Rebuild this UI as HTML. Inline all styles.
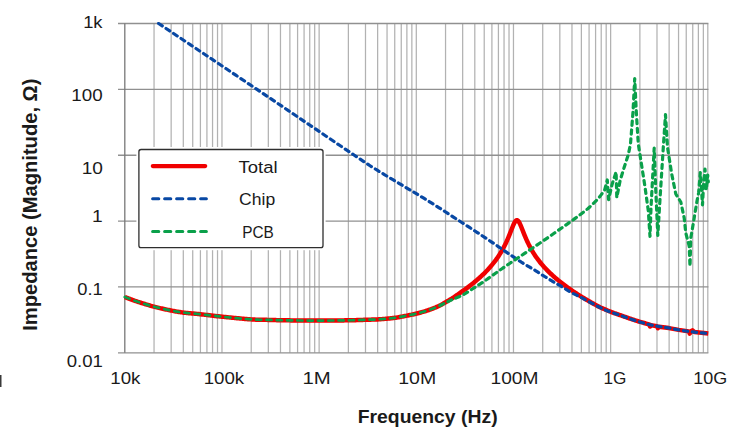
<!DOCTYPE html>
<html><head><meta charset="utf-8"><title>Impedance vs Frequency</title>
<style>
html,body{margin:0;padding:0;background:#fff;}
body{width:738px;height:444px;overflow:hidden;font-family:"Liberation Sans",sans-serif;}
svg{display:block;}
text{font-family:"Liberation Sans",sans-serif;fill:#1a1a1a;}
</style></head><body>
<svg width="738" height="444" viewBox="0 0 738 444">
<rect width="738" height="444" fill="#ffffff"/>
<filter id="bl" x="-2%" y="-2%" width="104%" height="104%"><feGaussianBlur stdDeviation="0.45"/></filter>
<g filter="url(#bl)">
<g stroke="#b2b2b2" stroke-width="1.25" fill="none">
<line x1="154.05" y1="23.50" x2="154.05" y2="352.80"/>
<line x1="171.16" y1="23.50" x2="171.16" y2="352.80"/>
<line x1="183.30" y1="23.50" x2="183.30" y2="352.80"/>
<line x1="192.72" y1="23.50" x2="192.72" y2="352.80"/>
<line x1="200.41" y1="23.50" x2="200.41" y2="352.80"/>
<line x1="206.92" y1="23.50" x2="206.92" y2="352.80"/>
<line x1="212.55" y1="23.50" x2="212.55" y2="352.80"/>
<line x1="217.52" y1="23.50" x2="217.52" y2="352.80"/>
<line x1="251.22" y1="23.50" x2="251.22" y2="352.80"/>
<line x1="268.33" y1="23.50" x2="268.33" y2="352.80"/>
<line x1="280.47" y1="23.50" x2="280.47" y2="352.80"/>
<line x1="289.88" y1="23.50" x2="289.88" y2="352.80"/>
<line x1="297.58" y1="23.50" x2="297.58" y2="352.80"/>
<line x1="304.08" y1="23.50" x2="304.08" y2="352.80"/>
<line x1="309.72" y1="23.50" x2="309.72" y2="352.80"/>
<line x1="314.69" y1="23.50" x2="314.69" y2="352.80"/>
<line x1="221.97" y1="23.50" x2="221.97" y2="352.80"/>
<line x1="348.38" y1="23.50" x2="348.38" y2="352.80"/>
<line x1="365.49" y1="23.50" x2="365.49" y2="352.80"/>
<line x1="377.63" y1="23.50" x2="377.63" y2="352.80"/>
<line x1="387.05" y1="23.50" x2="387.05" y2="352.80"/>
<line x1="394.74" y1="23.50" x2="394.74" y2="352.80"/>
<line x1="401.25" y1="23.50" x2="401.25" y2="352.80"/>
<line x1="406.88" y1="23.50" x2="406.88" y2="352.80"/>
<line x1="411.85" y1="23.50" x2="411.85" y2="352.80"/>
<line x1="319.13" y1="23.50" x2="319.13" y2="352.80"/>
<line x1="445.55" y1="23.50" x2="445.55" y2="352.80"/>
<line x1="462.66" y1="23.50" x2="462.66" y2="352.80"/>
<line x1="474.80" y1="23.50" x2="474.80" y2="352.80"/>
<line x1="484.22" y1="23.50" x2="484.22" y2="352.80"/>
<line x1="491.91" y1="23.50" x2="491.91" y2="352.80"/>
<line x1="498.42" y1="23.50" x2="498.42" y2="352.80"/>
<line x1="504.05" y1="23.50" x2="504.05" y2="352.80"/>
<line x1="509.02" y1="23.50" x2="509.02" y2="352.80"/>
<line x1="416.30" y1="23.50" x2="416.30" y2="352.80"/>
<line x1="542.72" y1="23.50" x2="542.72" y2="352.80"/>
<line x1="559.83" y1="23.50" x2="559.83" y2="352.80"/>
<line x1="571.97" y1="23.50" x2="571.97" y2="352.80"/>
<line x1="581.38" y1="23.50" x2="581.38" y2="352.80"/>
<line x1="589.08" y1="23.50" x2="589.08" y2="352.80"/>
<line x1="595.58" y1="23.50" x2="595.58" y2="352.80"/>
<line x1="601.22" y1="23.50" x2="601.22" y2="352.80"/>
<line x1="606.19" y1="23.50" x2="606.19" y2="352.80"/>
<line x1="513.47" y1="23.50" x2="513.47" y2="352.80"/>
<line x1="639.88" y1="23.50" x2="639.88" y2="352.80"/>
<line x1="656.99" y1="23.50" x2="656.99" y2="352.80"/>
<line x1="669.13" y1="23.50" x2="669.13" y2="352.80"/>
<line x1="678.55" y1="23.50" x2="678.55" y2="352.80"/>
<line x1="686.24" y1="23.50" x2="686.24" y2="352.80"/>
<line x1="692.75" y1="23.50" x2="692.75" y2="352.80"/>
<line x1="698.38" y1="23.50" x2="698.38" y2="352.80"/>
<line x1="703.35" y1="23.50" x2="703.35" y2="352.80"/>
<line x1="610.63" y1="23.50" x2="610.63" y2="352.80"/>
<line x1="707.80" y1="23.50" x2="707.80" y2="352.80"/>
</g>
<g stroke="#909090" stroke-width="1.35" fill="none">
<line x1="118.00" y1="23.50" x2="708.40" y2="23.50"/>
<line x1="118.00" y1="89.36" x2="708.40" y2="89.36"/>
<line x1="118.00" y1="155.22" x2="708.40" y2="155.22"/>
<line x1="118.00" y1="221.08" x2="708.40" y2="221.08"/>
<line x1="118.00" y1="286.94" x2="708.40" y2="286.94"/>
<line x1="118.00" y1="352.80" x2="708.40" y2="352.80"/>
</g>
<line x1="124.8" y1="23.5" x2="124.8" y2="352.8" stroke="#787878" stroke-width="1.3"/>
</g>
<clipPath id="cp"><rect x="122.6" y="21.9" width="587.8" height="330.90000000000003"/></clipPath>
<g clip-path="url(#cp)">
<path d="M124.80 297.00 L125.80 297.39 L126.80 297.78 L127.80 298.17 L128.80 298.56 L129.80 298.95 L130.80 299.33 L131.80 299.71 L132.80 300.08 L133.80 300.44 L134.80 300.79 L135.80 301.13 L136.80 301.46 L137.80 301.79 L138.80 302.12 L139.80 302.44 L140.80 302.76 L141.80 303.08 L142.80 303.39 L143.80 303.70 L144.80 304.01 L145.80 304.32 L146.80 304.62 L147.80 304.92 L148.80 305.21 L149.80 305.50 L150.80 305.79 L151.80 306.07 L152.80 306.35 L153.80 306.62 L154.80 306.88 L155.80 307.14 L156.80 307.39 L157.80 307.63 L158.80 307.87 L159.80 308.11 L160.80 308.34 L161.80 308.56 L162.80 308.79 L163.80 309.00 L164.80 309.22 L165.80 309.43 L166.80 309.64 L167.80 309.85 L168.80 310.05 L169.80 310.26 L170.80 310.46 L171.80 310.66 L172.80 310.86 L173.80 311.06 L174.80 311.25 L175.80 311.43 L176.80 311.61 L177.80 311.78 L178.80 311.95 L179.80 312.10 L180.80 312.25 L181.80 312.39 L182.80 312.52 L183.80 312.65 L184.80 312.77 L185.80 312.88 L186.80 312.98 L187.80 313.08 L188.80 313.17 L189.80 313.26 L190.80 313.35 L191.80 313.44 L192.80 313.52 L193.80 313.61 L194.80 313.70 L195.80 313.79 L196.80 313.88 L197.80 313.98 L198.80 314.08 L199.80 314.18 L200.80 314.29 L201.80 314.40 L202.80 314.51 L203.80 314.62 L204.80 314.74 L205.80 314.86 L206.80 314.98 L207.80 315.09 L208.80 315.21 L209.80 315.33 L210.80 315.45 L211.80 315.57 L212.80 315.69 L213.80 315.80 L214.80 315.92 L215.80 316.03 L216.80 316.14 L217.80 316.25 L218.80 316.36 L219.80 316.47 L220.80 316.57 L221.80 316.68 L222.80 316.78 L223.80 316.88 L224.80 316.98 L225.80 317.08 L226.80 317.18 L227.80 317.29 L228.80 317.38 L229.80 317.48 L230.80 317.58 L231.80 317.68 L232.80 317.78 L233.80 317.88 L234.80 317.97 L235.80 318.07 L236.80 318.17 L237.80 318.26 L238.80 318.35 L239.80 318.45 L240.80 318.54 L241.80 318.63 L242.80 318.72 L243.80 318.81 L244.80 318.89 L245.80 318.98 L246.80 319.06 L247.80 319.14 L248.80 319.22 L249.80 319.30 L250.80 319.37 L251.80 319.44 L252.80 319.50 L253.80 319.56 L254.80 319.61 L255.80 319.66 L256.80 319.69 L257.80 319.73 L258.80 319.76 L259.80 319.78 L260.80 319.80 L261.80 319.81 L262.80 319.82 L263.80 319.83 L264.80 319.84 L265.80 319.85 L266.80 319.87 L267.80 319.89 L268.80 319.91 L269.80 319.94 L270.80 319.97 L271.80 320.00 L272.80 320.03 L273.80 320.06 L274.80 320.08 L275.80 320.11 L276.80 320.13 L277.80 320.16 L278.80 320.18 L279.80 320.20 L280.80 320.21 L281.80 320.23 L282.80 320.25 L283.80 320.27 L284.80 320.29 L285.80 320.30 L286.80 320.32 L287.80 320.34 L288.80 320.35 L289.80 320.37 L290.80 320.38 L291.80 320.40 L292.80 320.41 L293.80 320.42 L294.80 320.44 L295.80 320.45 L296.80 320.46 L297.80 320.48 L298.80 320.49 L299.80 320.50 L300.80 320.51 L301.80 320.52 L302.80 320.53 L303.80 320.54 L304.80 320.55 L305.80 320.56 L306.80 320.57 L307.80 320.58 L308.80 320.59 L309.80 320.59 L310.80 320.60 L311.80 320.60 L312.80 320.61 L313.80 320.61 L314.80 320.61 L315.80 320.61 L316.80 320.61 L317.80 320.60 L318.80 320.60 L319.80 320.60 L320.80 320.59 L321.80 320.59 L322.80 320.58 L323.80 320.57 L324.80 320.57 L325.80 320.56 L326.80 320.55 L327.80 320.54 L328.80 320.54 L329.80 320.53 L330.80 320.52 L331.80 320.51 L332.80 320.50 L333.80 320.49 L334.80 320.48 L335.80 320.47 L336.80 320.46 L337.80 320.45 L338.80 320.44 L339.80 320.43 L340.80 320.42 L341.80 320.40 L342.80 320.39 L343.80 320.38 L344.80 320.36 L345.80 320.35 L346.80 320.33 L347.80 320.32 L348.80 320.30 L349.80 320.28 L350.80 320.27 L351.80 320.24 L352.80 320.22 L353.80 320.20 L354.80 320.17 L355.80 320.14 L356.80 320.11 L357.80 320.08 L358.80 320.04 L359.80 320.01 L360.80 319.97 L361.80 319.94 L362.80 319.90 L363.80 319.86 L364.80 319.83 L365.80 319.80 L366.80 319.77 L367.80 319.74 L368.80 319.71 L369.80 319.68 L370.80 319.65 L371.80 319.62 L372.80 319.59 L373.80 319.56 L374.80 319.52 L375.80 319.48 L376.80 319.44 L377.80 319.39 L378.80 319.33 L379.80 319.27 L380.80 319.20 L381.80 319.13 L382.80 319.05 L383.80 318.96 L384.80 318.87 L385.80 318.78 L386.80 318.69 L387.80 318.60 L388.80 318.50 L389.80 318.40 L390.80 318.29 L391.80 318.18 L392.80 318.06 L393.80 317.94 L394.80 317.81 L395.80 317.68 L396.80 317.54 L397.80 317.37 L398.80 317.18 L399.80 316.99 L400.80 316.80 L401.80 316.61 L402.80 316.42 L403.80 316.23 L404.80 316.04 L405.80 315.85 L406.80 315.66 L407.80 315.47 L408.80 315.28 L409.80 315.08 L410.80 314.88 L411.80 314.67 L412.80 314.46 L413.80 314.25 L414.80 314.02 L415.80 313.79 L416.80 313.55 L417.80 313.30 L418.80 313.03 L419.80 312.77 L420.80 312.49 L421.80 312.20 L422.80 311.91 L423.80 311.61 L424.80 311.31 L425.80 310.99 L426.80 310.67 L427.80 310.34 L428.80 310.01 L429.80 309.67 L430.80 309.32 L431.80 308.95 L432.80 308.57 L433.80 308.18 L434.80 307.78 L435.80 307.36 L436.80 306.91 L437.80 306.44 L438.80 305.96 L439.80 305.47 L440.80 304.97 L441.80 304.44 L442.80 303.88 L443.80 303.31 L444.80 302.73 L445.80 302.14 L446.80 301.55 L447.80 300.96 L448.80 300.38 L449.80 299.79 L450.80 299.19 L451.80 298.57 L452.80 297.93 L453.80 297.27 L454.80 296.59 L455.80 295.90 L456.80 295.21 L457.80 294.51 L458.80 293.81 L459.80 293.10 L460.80 292.38 L461.80 291.66 L462.80 290.96 L463.80 290.26 L464.80 289.55 L465.80 288.82 L466.80 288.09 L467.80 287.35 L468.80 286.60 L469.80 285.83 L470.80 285.06 L471.80 284.28 L472.80 283.48 L473.80 282.67 L474.80 281.85 L475.80 281.01 L476.80 280.16 L477.80 279.30 L478.80 278.42 L479.80 277.52 L480.80 276.61 L481.80 275.68 L482.80 274.73 L483.80 273.76 L484.80 272.78 L485.80 271.76 L486.80 270.73 L487.80 269.67 L488.80 268.58 L489.80 267.47 L490.80 266.32 L491.80 265.14 L492.80 263.93 L493.80 262.67 L494.80 261.38 L495.80 260.04 L496.80 258.65 L497.80 257.22 L498.80 255.72 L499.80 254.16 L500.80 252.54 L501.80 250.84 L502.80 249.07 L503.80 247.21 L504.80 245.25 L505.80 243.20 L506.05 242.67 L506.30 242.14 L506.55 241.60 L506.80 241.05 L507.05 240.49 L507.30 239.93 L507.55 239.36 L507.80 238.78 L508.05 238.20 L508.30 237.61 L508.55 237.02 L508.80 236.41 L509.05 235.81 L509.30 235.19 L509.55 234.57 L509.80 233.95 L510.05 233.32 L510.30 232.69 L510.55 232.05 L510.80 231.41 L511.05 230.77 L511.30 230.13 L511.55 229.49 L511.80 228.85 L512.05 228.22 L512.30 227.59 L512.55 226.96 L512.80 226.35 L513.05 225.75 L513.30 225.16 L513.55 224.59 L513.80 224.04 L514.05 223.51 L514.30 223.01 L514.55 222.54 L514.80 222.10 L515.05 221.70 L515.30 221.35 L515.55 221.03 L515.80 220.77 L516.05 220.55 L516.30 220.39 L516.55 220.28 L516.80 220.23 L517.05 220.23 L517.30 220.29 L517.55 220.41 L517.80 220.57 L518.05 220.80 L518.30 221.07 L518.55 221.38 L518.80 221.75 L519.05 222.15 L519.30 222.59 L519.55 223.06 L519.80 223.56 L520.05 224.09 L520.30 224.64 L520.55 225.21 L520.80 225.79 L521.05 226.39 L521.30 227.01 L521.55 227.63 L521.80 228.25 L522.05 228.88 L522.30 229.52 L522.55 230.16 L522.80 230.79 L523.05 231.43 L523.30 232.06 L523.55 232.69 L523.80 233.32 L524.05 233.94 L524.30 234.56 L524.55 235.18 L524.80 235.78 L525.05 236.38 L525.30 236.98 L525.55 237.57 L525.80 238.15 L526.05 238.73 L526.30 239.30 L526.55 239.86 L526.80 240.42 L527.05 240.97 L527.30 241.51 L527.55 242.05 L527.80 242.58 L528.05 243.10 L528.30 243.61 L528.55 244.12 L528.80 244.63 L529.05 245.12 L529.30 245.61 L529.55 246.10 L529.80 246.58 L530.05 247.05 L531.05 248.89 L532.05 250.64 L533.05 252.31 L534.05 253.90 L535.05 255.43 L536.05 256.90 L537.05 258.31 L538.05 259.67 L539.05 260.98 L540.05 262.24 L541.05 263.46 L542.05 264.65 L543.05 265.79 L544.05 266.91 L545.05 267.99 L546.05 269.05 L547.05 270.09 L548.05 271.10 L549.05 272.09 L550.05 273.06 L551.05 274.00 L552.05 274.93 L553.05 275.84 L554.05 276.73 L555.05 277.60 L556.05 278.46 L557.05 279.31 L558.05 280.14 L559.05 280.95 L560.05 281.76 L561.05 282.55 L562.05 283.33 L563.05 284.10 L564.05 284.86 L565.05 285.60 L566.05 286.34 L567.05 287.07 L568.05 287.79 L569.05 288.50 L570.05 289.20 L571.05 289.90 L572.05 290.58 L573.05 291.26 L574.05 291.93 L575.05 292.60 L576.05 293.25 L577.05 293.90 L578.05 294.54 L579.05 295.18 L580.05 295.81 L581.05 296.44 L582.05 297.05 L583.05 297.67 L584.05 298.27 L585.05 298.87 L586.05 299.47 L587.05 300.06 L588.05 300.65 L589.05 301.23 L590.05 301.80 L591.05 302.37 L592.05 302.94 L593.05 303.50 L594.05 304.05 L595.05 304.60 L596.05 305.15 L597.05 305.69 L598.05 306.23 L599.05 306.76 L600.05 307.27 L601.05 307.71 L602.05 308.14 L603.05 308.58 L604.05 309.01 L605.05 309.44 L606.05 309.87 L607.05 310.29 L608.05 310.71 L609.05 311.12 L610.05 311.52 L611.05 311.92 L612.05 312.30 L613.05 312.67 L614.05 313.04 L615.05 313.38 L616.05 313.72 L617.05 314.07 L618.05 314.42 L619.05 314.77 L620.05 315.13 L621.05 315.48 L622.05 315.83 L623.05 316.19 L624.05 316.54 L625.05 316.89 L626.05 317.23 L627.05 317.58 L628.05 317.92 L629.05 318.27 L630.05 318.62 L631.05 318.96 L632.05 319.31 L633.05 319.65 L634.05 319.98 L635.05 320.31 L636.05 320.63 L637.05 320.95 L638.05 321.25 L639.05 321.55 L640.05 321.84 L641.05 322.13 L642.05 322.42 L643.05 322.70 L644.05 322.98 L645.05 323.27 L646.05 323.55 L647.05 323.83 L648.00 324.10 L649.20 324.60 L650.10 326.50 L651.00 325.10 L656.80 326.20 L657.90 328.20 L659.00 326.70 L669.00 328.10 L678.80 329.90 L688.60 331.40 L689.80 333.60 L691.00 331.20 L692.40 330.40 L694.50 332.00 L708.30 333.50" fill="none" stroke="#f00000" stroke-width="4.5" stroke-linejoin="round" stroke-linecap="butt"/>
<path d="M158.60 23.50 L164.46 27.42 L172.00 32.47 L180.93 38.44 L190.94 45.13 L201.74 52.35 L213.02 59.90 L224.48 67.58 L235.84 75.18 L246.77 82.53 L257.00 89.40 L267.08 96.19 L277.63 103.32 L288.44 110.64 L299.31 118.00 L310.02 125.26 L320.38 132.28 L330.16 138.91 L339.17 145.00 L347.18 150.41 L354.00 155.00 L359.38 158.61 L363.39 161.30 L366.33 163.27 L368.46 164.69 L370.06 165.74 L371.42 166.61 L372.82 167.48 L374.53 168.53 L376.83 169.94 L380.00 171.90 L383.99 174.34 L388.46 177.06 L393.32 179.97 L398.43 183.03 L403.69 186.16 L408.97 189.31 L414.16 192.41 L419.14 195.40 L423.79 198.22 L428.00 200.80 L431.81 203.17 L435.37 205.40 L438.71 207.53 L441.86 209.55 L444.88 211.50 L447.78 213.39 L450.60 215.23 L453.39 217.06 L456.18 218.87 L459.00 220.70 L461.78 222.49 L464.43 224.20 L467.00 225.85 L469.50 227.46 L471.97 229.06 L474.45 230.67 L476.96 232.30 L479.53 233.99 L482.20 235.75 L485.00 237.60 L488.02 239.62 L491.30 241.83 L494.74 244.16 L498.27 246.56 L501.79 248.96 L505.22 251.31 L508.49 253.53 L511.49 255.58 L514.16 257.39 L516.40 258.90 L518.18 260.09 L519.56 261.01 L520.63 261.71 L521.44 262.23 L522.07 262.63 L522.59 262.95 L523.07 263.24 L523.59 263.55 L524.21 263.92 L525.00 264.40 L525.92 264.96 L526.86 265.52 L527.81 266.08 L528.78 266.64 L529.75 267.20 L530.72 267.76 L531.69 268.32 L532.64 268.88 L533.58 269.44 L534.50 270.00 L535.39 270.55 L536.25 271.09 L537.09 271.63 L537.92 272.17 L538.75 272.71 L539.58 273.25 L540.42 273.79 L541.29 274.35 L542.18 274.92 L543.10 275.50 L544.08 276.11 L545.10 276.74 L546.17 277.40 L547.25 278.07 L548.34 278.74 L549.43 279.40 L550.49 280.05 L551.52 280.67 L552.49 281.26 L553.40 281.80 L554.22 282.29 L554.96 282.72 L555.63 283.10 L556.26 283.46 L556.88 283.81 L557.50 284.16 L558.15 284.53 L558.86 284.94 L559.63 285.39 L560.50 285.90 L561.47 286.49 L562.53 287.13 L563.66 287.83 L564.83 288.55 L566.04 289.30 L567.26 290.05 L568.47 290.79 L569.66 291.50 L570.81 292.18 L571.90 292.80 L572.95 293.37 L573.98 293.92 L574.99 294.44 L575.98 294.93 L576.96 295.41 L577.92 295.88 L578.87 296.34 L579.80 296.79 L580.71 297.24 L581.60 297.70 L582.46 298.15 L583.29 298.59 L584.08 299.01 L584.86 299.43 L585.62 299.84 L586.38 300.26 L587.15 300.68 L587.94 301.10 L588.75 301.54 L589.60 302.00 L590.48 302.47 L591.39 302.97 L592.31 303.47 L593.25 303.98 L594.21 304.50 L595.17 305.02 L596.13 305.53 L597.09 306.03 L598.05 306.53 L599.00 307.00 L599.95 307.46 L600.89 307.92 L601.84 308.37 L602.79 308.82 L603.74 309.26 L604.70 309.69 L605.65 310.11 L606.60 310.52 L607.55 310.91 L608.50 311.30 L609.45 311.67 L610.40 312.02 L611.35 312.36 L612.30 312.69 L613.26 313.01 L614.21 313.33 L615.16 313.64 L616.11 313.96 L617.05 314.27 L618.00 314.60 L618.94 314.93 L619.88 315.26 L620.82 315.59 L621.76 315.92 L622.70 316.26 L623.64 316.59 L624.58 316.92 L625.52 317.25 L626.46 317.57 L627.40 317.90 L628.34 318.22 L629.27 318.55 L630.19 318.87 L631.12 319.19 L632.04 319.51 L632.98 319.82 L633.93 320.14 L634.90 320.46 L635.88 320.78 L636.90 321.10 L637.95 321.43 L639.04 321.76 L640.17 322.10 L641.31 322.44 L642.46 322.78 L643.61 323.11 L644.74 323.44 L645.86 323.74 L646.95 324.03 L648.00 324.30 L649.00 324.54 L649.95 324.76 L650.88 324.97 L651.78 325.16 L652.67 325.34 L653.56 325.51 L654.47 325.68 L655.41 325.85 L656.38 326.02 L657.40 326.20 L658.48 326.38 L659.61 326.56 L660.77 326.74 L661.97 326.92 L663.17 327.10 L664.38 327.28 L665.58 327.46 L666.76 327.64 L667.90 327.82 L669.00 328.00 L670.04 328.19 L671.04 328.38 L672.00 328.57 L672.93 328.76 L673.86 328.95 L674.79 329.14 L675.74 329.33 L676.72 329.52 L677.73 329.71 L678.80 329.90 L679.90 330.08 L681.00 330.27 L682.12 330.45 L683.26 330.63 L684.43 330.81 L685.64 330.98 L686.89 331.16 L688.20 331.34 L689.56 331.52 L691.00 331.70 L692.60 331.89 L694.41 332.09 L696.36 332.30 L698.38 332.51 L700.41 332.71 L702.38 332.91 L704.22 333.09 L705.87 333.26 L707.25 333.39 L708.30 333.50" fill="none" stroke="#0848a4" stroke-width="3.2" stroke-dasharray="4.4 4.6" stroke-linecap="round" stroke-linejoin="round"/>
<path d="M124.80 297.00 L125.46 297.25 L126.26 297.57 L127.21 297.94 L128.27 298.36 L129.44 298.81 L130.69 299.29 L132.02 299.79 L133.41 300.30 L134.84 300.81 L136.30 301.30 L137.83 301.80 L139.47 302.34 L141.21 302.89 L143.01 303.46 L144.86 304.03 L146.74 304.60 L148.63 305.16 L150.50 305.70 L152.33 306.22 L154.10 306.70 L155.85 307.15 L157.61 307.59 L159.38 308.01 L161.14 308.42 L162.89 308.81 L164.61 309.18 L166.29 309.54 L167.92 309.87 L169.50 310.20 L171.00 310.50 L172.40 310.78 L173.70 311.04 L174.92 311.27 L176.08 311.49 L177.22 311.69 L178.35 311.88 L179.51 312.06 L180.72 312.24 L182.01 312.42 L183.40 312.60 L184.87 312.78 L186.36 312.94 L187.90 313.09 L189.48 313.23 L191.10 313.38 L192.77 313.52 L194.49 313.67 L196.27 313.83 L198.10 314.01 L200.00 314.20 L201.95 314.41 L203.94 314.64 L205.98 314.88 L208.07 315.13 L210.21 315.38 L212.42 315.64 L214.70 315.91 L217.05 316.17 L219.48 316.44 L222.00 316.70 L224.68 316.97 L227.57 317.26 L230.61 317.56 L233.74 317.87 L236.90 318.17 L240.04 318.47 L243.10 318.75 L246.01 319.00 L248.73 319.22 L251.20 319.40 L253.43 319.54 L255.50 319.64 L257.42 319.72 L259.21 319.77 L260.90 319.80 L262.50 319.82 L264.03 319.83 L265.51 319.85 L266.96 319.87 L268.40 319.90 L269.75 319.94 L270.94 319.97 L272.03 320.00 L273.04 320.03 L274.02 320.06 L275.02 320.09 L276.08 320.12 L277.23 320.14 L278.52 320.17 L280.00 320.20 L281.66 320.23 L283.48 320.26 L285.41 320.30 L287.44 320.33 L289.54 320.36 L291.67 320.39 L293.81 320.42 L295.93 320.45 L298.00 320.48 L300.00 320.50 L301.89 320.52 L303.69 320.54 L305.43 320.56 L307.14 320.57 L308.88 320.59 L310.66 320.60 L312.52 320.61 L314.51 320.61 L316.66 320.61 L319.00 320.60 L321.61 320.59 L324.51 320.57 L327.61 320.55 L330.85 320.52 L334.14 320.49 L337.43 320.45 L340.63 320.42 L343.68 320.38 L346.49 320.34 L349.00 320.30 L351.23 320.26 L353.27 320.21 L355.14 320.16 L356.87 320.11 L358.48 320.06 L360.00 320.00 L361.46 319.95 L362.88 319.90 L364.28 319.85 L365.70 319.80 L367.10 319.76 L368.43 319.72 L369.71 319.68 L370.94 319.65 L372.13 319.61 L373.27 319.58 L374.39 319.54 L375.48 319.50 L376.54 319.45 L377.60 319.40 L378.63 319.34 L379.61 319.28 L380.56 319.22 L381.48 319.15 L382.38 319.08 L383.26 319.01 L384.12 318.93 L384.98 318.86 L385.84 318.78 L386.70 318.70 L387.57 318.62 L388.43 318.53 L389.30 318.45 L390.16 318.36 L391.00 318.27 L391.83 318.18 L392.64 318.08 L393.42 317.99 L394.18 317.89 L394.90 317.80 L395.54 317.71 L396.07 317.64 L396.53 317.58 L396.95 317.51 L397.37 317.44 L397.84 317.36 L398.37 317.26 L399.02 317.14 L399.82 316.99 L400.80 316.80 L401.99 316.57 L403.36 316.31 L404.89 316.03 L406.52 315.72 L408.23 315.39 L409.98 315.04 L411.72 314.69 L413.44 314.33 L415.07 313.96 L416.60 313.60 L418.05 313.23 L419.49 312.85 L420.90 312.46 L422.30 312.06 L423.66 311.66 L425.00 311.25 L426.31 310.83 L427.58 310.42 L428.81 310.01 L430.00 309.60 L431.14 309.20 L432.22 308.80 L433.25 308.40 L434.24 308.01 L435.21 307.61 L436.16 307.20 L437.11 306.79 L438.05 306.37 L439.02 305.94 L440.00 305.50 L440.99 305.05" fill="none" stroke="#0aa04a" stroke-width="2.7" stroke-dasharray="5.1 5.2" stroke-linecap="round" stroke-linejoin="round"/>
<path d="M440.00 305.50 L440.99 305.05 L441.95 304.59 L442.91 304.12 L443.86 303.64 L444.81 303.16 L445.78 302.66 L446.78 302.16 L447.81 301.65 L448.88 301.13 L450.00 300.60 L451.18 300.06 L452.42 299.52 L453.71 298.98 L455.03 298.43 L456.38 297.86 L457.73 297.29 L459.08 296.69 L460.42 296.08 L461.73 295.45 L463.00 294.80 L464.25 294.11 L465.50 293.39 L466.75 292.64 L467.99 291.86 L469.21 291.08 L470.42 290.30 L471.61 289.52 L472.77 288.75 L473.90 288.01 L475.00 287.30 L476.06 286.62 L477.09 285.96 L478.09 285.31 L479.07 284.68 L480.02 284.06 L480.95 283.44 L481.88 282.83 L482.79 282.22 L483.70 281.61 L484.60 281.00 L485.48 280.40 L486.33 279.81 L487.15 279.24 L487.95 278.67 L488.75 278.10 L489.56 277.52 L490.39 276.93 L491.24 276.32 L492.15 275.68 L493.10 275.00 L494.11 274.29 L495.15 273.55 L496.23 272.78 L497.34 271.99 L498.48 271.19 L499.63 270.37 L500.79 269.55 L501.96 268.73 L503.13 267.91 L504.30 267.10 L505.40 266.34 L506.40 265.66 L507.34 265.01 L508.28 264.37 L509.26 263.71 L510.33 262.99 L511.53 262.19 L512.91 261.26 L514.52 260.17 L516.40 258.90 L518.61 257.41 L521.12 255.72 L523.88 253.87 L526.82 251.89 L529.89 249.83 L533.03 247.72 L536.16 245.61 L539.25 243.52 L542.21 241.51 L545.00 239.60 L547.69 237.75 L550.39 235.88 L553.08 234.02 L555.74 232.16 L558.35 230.34 L560.89 228.55 L563.35 226.82 L565.70 225.16 L567.92 223.58 L570.00 222.10 L571.94 220.71 L573.77 219.39 L575.49 218.14 L577.11 216.95 L578.64 215.83 L580.07 214.77 L581.42 213.75 L582.68 212.79 L583.88 211.87 L585.00 211.00 L586.01 210.20 L586.89 209.49 L587.65 208.85 L588.32 208.27 L588.92 207.73 L589.48 207.21 L590.03 206.70 L590.58 206.17 L591.16 205.61 L591.80 205.00 L592.48 204.36 L593.16 203.71 L593.84 203.06 L594.52 202.40 L595.19 201.73 L595.87 201.05 L596.54 200.36 L597.20 199.66 L597.85 198.94 L598.50 198.20 L599.16 197.41 L599.86 196.53 L600.57 195.61 L601.28 194.66 L601.97 193.72 L602.63 192.82 L603.24 191.98 L603.78 191.22 L604.24 190.59 L604.60 190.10 L607.30 180.00 L608.60 199.60 L612.00 184.70 L616.10 171.90 L616.80 197.60 L620.10 180.70 L624.20 167.20 L628.20 155.00 L630.50 144.00 L633.00 112.00 L634.70 78.50 L636.30 112.00 L638.30 144.00 L641.70 165.70 L645.00 187.00 L648.30 210.70 L650.00 236.30 L651.00 208.00 L654.20 148.00 L655.80 190.70 L657.80 235.50 L660.00 199.00 L663.30 147.30 L665.50 114.70 L667.50 147.30 L671.70 174.00 L675.80 194.00 L680.80 202.00 L684.20 218.00 L685.80 233.00 L689.20 246.00 L690.00 266.30 L690.80 238.00 L694.20 218.00 L697.00 201.00 L698.60 193.00 L700.30 172.60 L701.50 190.00 L702.50 205.00 L703.50 185.00 L705.00 169.00 L706.30 190.00 L707.70 175.00 L708.30 182.00" fill="none" stroke="#0aa04a" stroke-width="3.2" stroke-dasharray="4.2 4.6" stroke-linecap="round" stroke-linejoin="round"/>
</g>
<rect x="136.4" y="147" width="189.2" height="103.2" fill="#ffffff"/>
<rect x="138.9" y="149.5" width="184.1" height="98.1" rx="2.2" ry="2.2" fill="#ffffff" stroke="#2e2e2e" stroke-width="1.3"/>
<line x1="152.8" y1="166.1" x2="205.2" y2="166.1" stroke="#f00000" stroke-width="4.2" stroke-linecap="round"/>
<line x1="152.6" y1="198.8" x2="206.4" y2="198.8" stroke="#0848a4" stroke-width="3" stroke-dasharray="6.2 5.8" stroke-linecap="round"/>
<line x1="152.6" y1="231.4" x2="206.4" y2="231.4" stroke="#0aa04a" stroke-width="3" stroke-dasharray="6.2 5.8" stroke-linecap="round"/>
<rect x="0" y="375" width="1.5" height="12" fill="#3a3a3a"/>
<text id="y1k" x="83.15" y="28.20" font-size="17.20" textLength="19.38" lengthAdjust="spacingAndGlyphs">1k</text>
<text id="y100" x="71.29" y="101.10" font-size="17.20" textLength="31.32" lengthAdjust="spacingAndGlyphs">100</text>
<text id="y10" x="81.65" y="173.90" font-size="17.20" textLength="21.26" lengthAdjust="spacingAndGlyphs">10</text>
<text id="y1" x="92.05" y="222.10" font-size="17.20" textLength="10.66" lengthAdjust="spacingAndGlyphs">1</text>
<text id="y0.1" x="77.22" y="294.90" font-size="17.20" textLength="25.48" lengthAdjust="spacingAndGlyphs">0.1</text>
<text id="y0.01" x="66.80" y="366.60" font-size="17.20" textLength="36.12" lengthAdjust="spacingAndGlyphs">0.01</text>
<text id="x10k" x="110.31" y="383.70" font-size="17.20" textLength="30.18" lengthAdjust="spacingAndGlyphs">10k</text>
<text id="x100k" x="203.68" y="383.70" font-size="17.20" textLength="40.54" lengthAdjust="spacingAndGlyphs">100k</text>
<text id="x1M" x="302.55" y="383.70" font-size="17.20" textLength="28.31" lengthAdjust="spacingAndGlyphs">1M</text>
<text id="x10M" x="398.27" y="383.70" font-size="17.20" textLength="37.97" lengthAdjust="spacingAndGlyphs">10M</text>
<text id="x100M" x="490.49" y="383.70" font-size="17.20" textLength="47.89" lengthAdjust="spacingAndGlyphs">100M</text>
<text id="x1G" x="603.43" y="383.70" font-size="17.20" textLength="22.99" lengthAdjust="spacingAndGlyphs">1G</text>
<text id="x10G" x="693.38" y="383.70" font-size="17.20" textLength="33.96" lengthAdjust="spacingAndGlyphs">10G</text>
<text id="lTotal" x="238.54" y="172.80" font-size="16.80" textLength="39.06" lengthAdjust="spacingAndGlyphs">Total</text>
<text id="lChip" x="239.13" y="204.90" font-size="16.80" textLength="36.10" lengthAdjust="spacingAndGlyphs">Chip</text>
<text id="lPCB" x="242.29" y="237.80" font-size="16.80" textLength="31.57" lengthAdjust="spacingAndGlyphs">PCB</text>
<text id="tx" x="357.65" y="423" font-size="17.70" font-weight="bold" textLength="140.00" lengthAdjust="spacingAndGlyphs">Frequency (Hz)</text>
<text id="ty" transform="translate(36.5 330.80) rotate(-90)" x="0" y="0" font-size="19.30" font-weight="bold" textLength="252.25" lengthAdjust="spacingAndGlyphs">Impedance (Magnitude, &#937;)</text>
</svg>
</body></html>
